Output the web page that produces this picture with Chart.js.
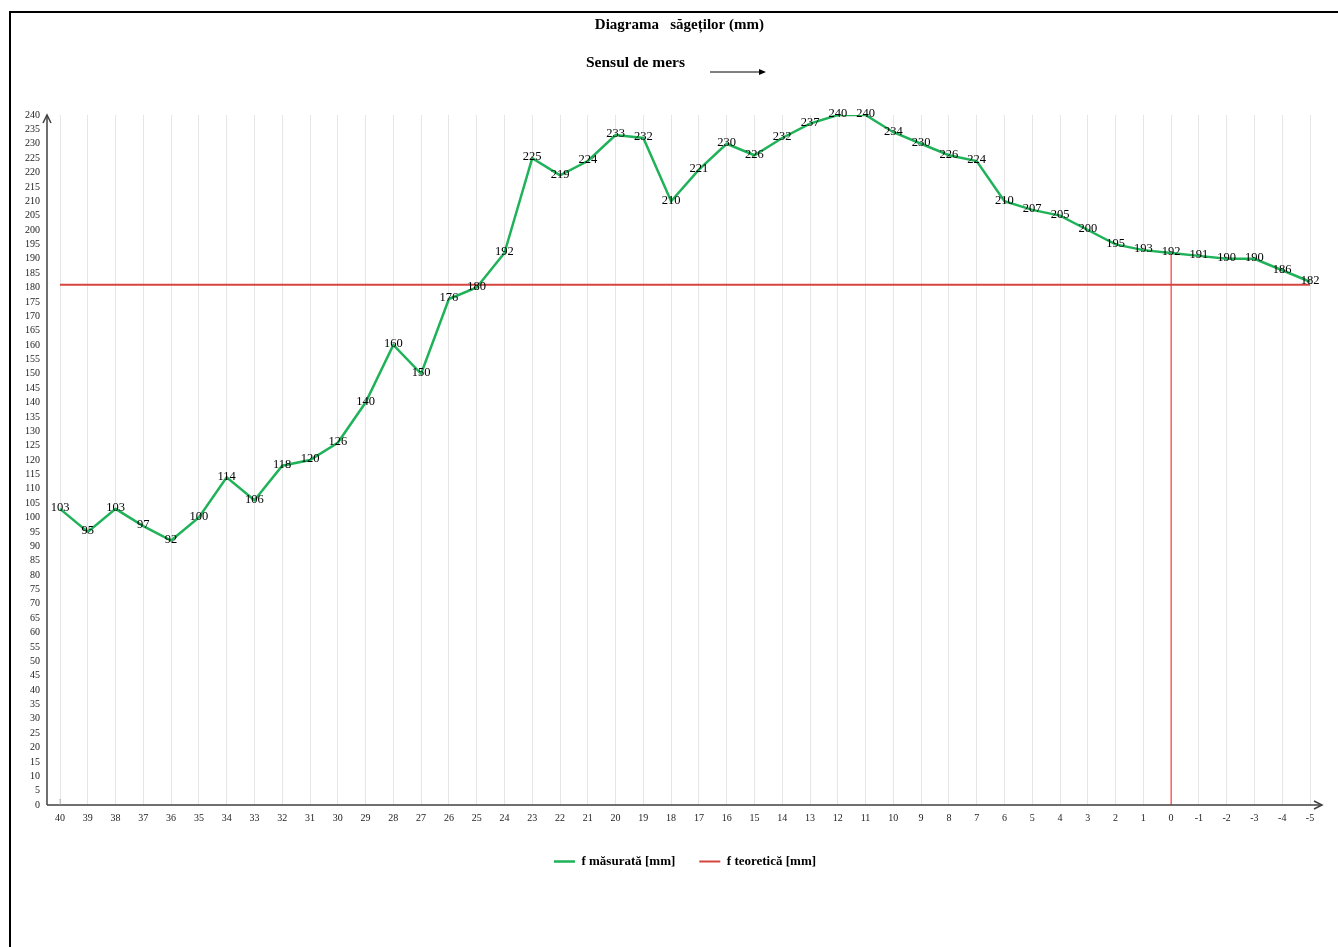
<!DOCTYPE html>
<html>
<head>
<meta charset="utf-8">
<title>Diagrama săgeților</title>
<script src="https://cdn.jsdelivr.net/npm/chart.js@4/dist/chart.umd.min.js"></script>
<style>
  html, body { margin: 0; padding: 0; background: #fff; overflow: hidden; }
  #wrap { position: relative; width: 1338px; height: 947px; }
  #frame {
    position: absolute; left: 9px; top: 11px; right: -10px; bottom: -10px;
    border-top: 2px solid #000; border-left: 2px solid #000; pointer-events: none;
  }
</style>
</head>
<body>
<div id="wrap">
  <canvas id="sagetiChart" width="1338" height="947"></canvas>
  <div id="frame"></div>
</div>
<script>
// Positions along the beam (read right-to-left, as in the drawing)
const pozitii = ['40', '39', '38', '37', '36', '35', '34', '33', '32', '31',
  '30', '29', '28', '27', '26', '25', '24', '23', '22', '21',
  '20', '19', '18', '17', '16', '15', '14', '13', '12', '11',
  '10', '9', '8', '7', '6', '5', '4', '3', '2', '1',
  '0', '-1', '-2', '-3', '-4', '-5'];

// Measured deflection [mm]
const fMasurata = [103, 95, 103, 97, 92, 100, 114, 106, 118, 120,
  126, 140, 160, 150, 176, 180, 192, 225, 219, 224,
  233, 232, 210, 221, 230, 226, 232, 237, 240, 240,
  234, 230, 226, 224, 210, 207, 205, 200, 195, 193,
  192, 191, 190, 190, 186, 182];

// Theoretical deflection [mm]
const fTeoretica = [181, 181, 181, 181, 181, 181, 181, 181, 181, 181,
  181, 181, 181, 181, 181, 181, 181, 181, 181, 181,
  181, 181, 181, 181, 181, 181, 181, 181, 181, 181,
  181, 181, 181, 181, 181, 181, 181, 181, 181, 181,
  181, 181, 181, 181, 181, 181];

// Marker position for the vertical reference line
const pozitieReper = '0';

const SERIF = '"Liberation Serif", "Times New Roman", serif';
const GREEN = '#1fb259';
const RED = '#d6443e';

// Data labels on the measured line
const etichete = {
  id: 'etichete',
  afterDatasetsDraw(chart) {
    const ctx = chart.ctx;
    const meta = chart.getDatasetMeta(0);
    ctx.save();
    ctx.fillStyle = '#000';
    ctx.font = '12.5px ' + SERIF;
    ctx.textAlign = 'center';
    ctx.textBaseline = 'middle';
    meta.data.forEach((pt, i) => {
      ctx.fillText(String(fMasurata[i]), pt.x, pt.y - 1);
    });
    ctx.restore();
  }
};

// Axes with arrows, the direction note and the small origin mark
const axe = {
  id: 'axe',
  afterDraw(chart) {
    const ctx = chart.ctx;
    const a = chart.chartArea;
    const x0 = a.left - 13;
    const y0 = a.bottom;
    ctx.save();
    ctx.strokeStyle = '#404040';
    ctx.fillStyle = '#404040';
    ctx.lineWidth = 1.5;
    // y axis
    ctx.beginPath();
    ctx.moveTo(x0, y0);
    ctx.lineTo(x0, a.top);
    ctx.stroke();
    ctx.beginPath();
    ctx.moveTo(x0 - 4, a.top + 8);
    ctx.lineTo(x0, a.top);
    ctx.lineTo(x0 + 4, a.top + 8);
    ctx.stroke();
    // x axis
    ctx.beginPath();
    ctx.moveTo(x0, y0);
    ctx.lineTo(a.right + 12, y0);
    ctx.stroke();
    ctx.beginPath();
    ctx.moveTo(a.right + 4, y0 - 4);
    ctx.lineTo(a.right + 12, y0);
    ctx.lineTo(a.right + 4, y0 + 4);
    ctx.stroke();

    ctx.fillStyle = '#999';
    ctx.font = '8px ' + SERIF;
    ctx.textAlign = 'center';
    ctx.fillText('1', a.left, y0 - 2);

    // "Sensul de mers" with arrow
    ctx.fillStyle = '#000';
    ctx.font = 'bold 15.5px ' + SERIF;
    ctx.textAlign = 'left';
    ctx.textBaseline = 'middle';
    ctx.fillText('Sensul de mers', 586, 63);
    ctx.strokeStyle = '#000';
    ctx.lineWidth = 1;
    ctx.beginPath();
    ctx.moveTo(710, 72);
    ctx.lineTo(760, 72);
    ctx.stroke();
    ctx.beginPath();
    ctx.moveTo(766, 72);
    ctx.lineTo(759, 69);
    ctx.lineTo(759, 75);
    ctx.closePath();
    ctx.fill();
    ctx.restore();
  }
};

const idxReper = pozitii.indexOf(pozitieReper);

new Chart(document.getElementById('sagetiChart'), {
  type: 'line',
  data: {
    labels: pozitii,
    datasets: [{
      label: 'f măsurată [mm]',
      data: fMasurata,
      borderColor: GREEN,
      backgroundColor: GREEN,
      borderWidth: 2.5,
      pointRadius: 0,
      tension: 0
    }, {
      label: 'f teoretică [mm]',
      data: fTeoretica,
      borderColor: RED,
      backgroundColor: RED,
      borderWidth: 2,
      pointRadius: 0
    }, {
      label: 'reper',
      data: [{ x: pozitieReper, y: 0 }, { x: pozitieReper, y: fMasurata[idxReper] }],
      borderColor: '#ff1a1a',
      borderWidth: 1,
      pointRadius: 0
    }]
  },
  options: {
    responsive: false,
    animation: false,
    layout: { padding: { left: 5, right: 28, top: 0, bottom: 69 } },
    scales: {
      x: {
        offset: false,
        grid: { color: '#e6e6e6', drawTicks: false },
        border: { display: false },
        ticks: {
          autoSkip: false, maxRotation: 0, padding: 7,
          color: '#222', font: { family: SERIF, size: 10 }
        }
      },
      y: {
        min: 0, max: 240,
        grid: { display: false, drawTicks: false },
        border: { display: false },
        ticks: {
          stepSize: 5, autoSkip: false, padding: 20,
          color: '#222', font: { family: SERIF, size: 10 }
        }
      }
    },
    plugins: {
      title: {
        display: true,
        fullSize: false,
        // trailing spaces nudge the centred title a little to the left
        text: 'Diagrama   săgeților (mm)   ',
        color: '#000',
        font: { family: SERIF, size: 15, weight: 'bold' },
        padding: { top: 16, bottom: 81 }
      },
      legend: {
        position: 'bottom',
        fullSize: false,
        labels: {
          filter: item => item.datasetIndex < 2,
          usePointStyle: true,
          pointStyle: 'line',
          pointStyleWidth: 21,
          padding: 24,
          color: '#000',
          font: { family: SERIF, size: 13, weight: 'bold' }
        }
      },
      tooltip: { enabled: false }
    }
  },
  plugins: [etichete, axe]
});
</script>
</body>
</html>
